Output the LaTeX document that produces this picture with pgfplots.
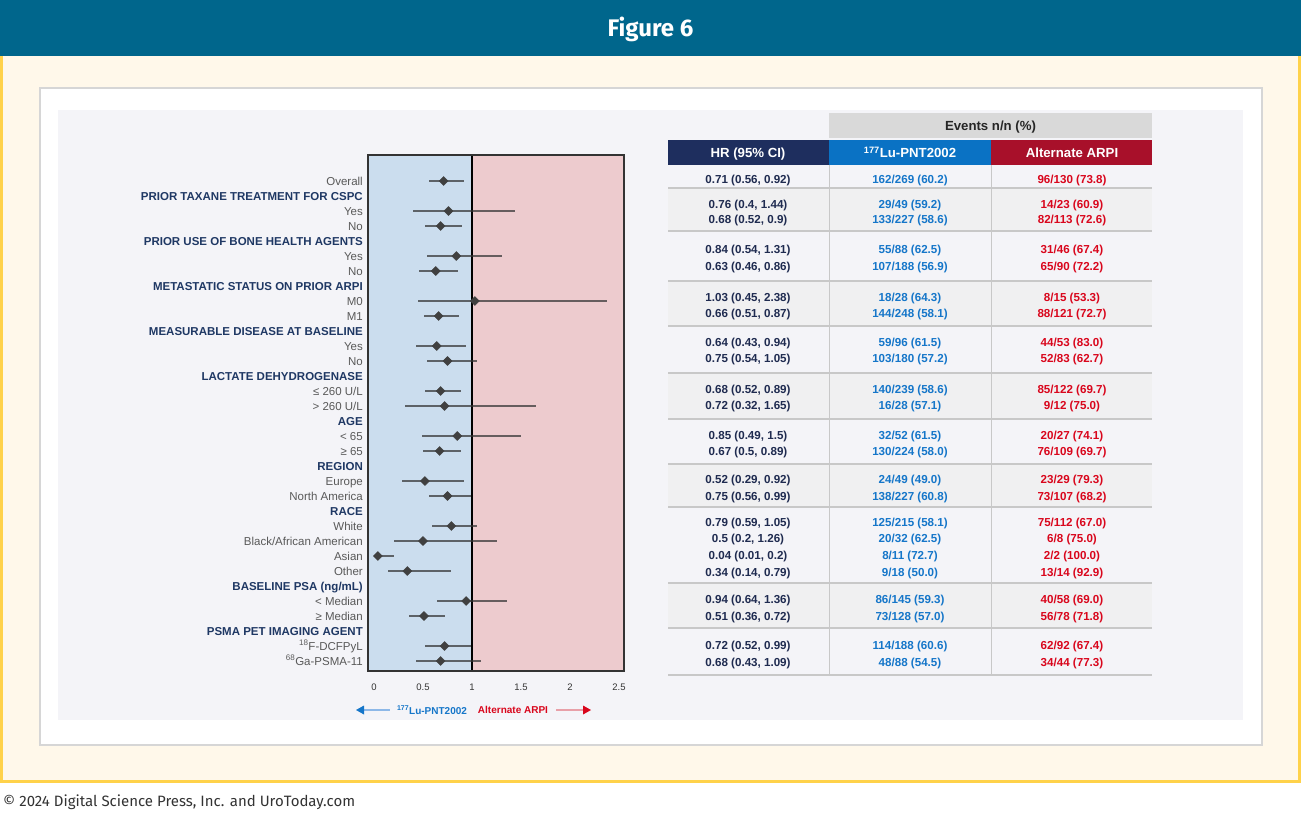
\documentclass[border=0pt]{standalone}
\usepackage{pgfplots}
\pgfplotsset{compat=1.18}
\usepackage{pgfplotstable}
\usepackage{fontspec}
\setmainfont{Liberation Sans}
\newfontfamily\firafont{Fira Sans}
\definecolor{topbar}{HTML}{00668C}
\definecolor{cream}{HTML}{FFF8EA}
\definecolor{ybord}{HTML}{FFD24A}
\definecolor{boxgray}{HTML}{D6D6D6}
\definecolor{panel}{HTML}{F4F4F8}
\definecolor{rowgray}{HTML}{F0F0F1}
\definecolor{sepgray}{HTML}{C8C8C8}
\definecolor{evgray}{HTML}{D9D9D9}
\definecolor{hnavy}{HTML}{1E2E5E}
\definecolor{hblue}{HTML}{0A72C4}
\definecolor{hred}{HTML}{A8102A}
\definecolor{hrc}{HTML}{1F2B50}
\definecolor{luc}{HTML}{1576C9}
\definecolor{arc}{HTML}{D9061C}
\definecolor{hdr}{HTML}{1F3864}
\definecolor{subc}{HTML}{595959}
\definecolor{bshade}{HTML}{CBDDEE}
\definecolor{pshade}{HTML}{EDCBCE}
\definecolor{axisc}{HTML}{333333}
\definecolor{lblue}{HTML}{8DB8E8}
\definecolor{lred}{HTML}{E8A0A8}
\newcommand{\hd}[1]{{\color{hdr}\bfseries #1}}
\newcommand{\sg}[1]{{\color{subc}#1}}
\newcommand{\trow}[4]{%
  \node[tbl,text=hrc] at (748,#1) {#2};
  \node[tbl,text=luc] at (910,#1) {#3};
  \node[tbl,text=arc] at (1072,#1) {#4};}
\pgfplotstableread{
y hr lo hi
0 0.71 0.56 0.92
2 0.76 0.40 1.44
3 0.68 0.52 0.90
5 0.84 0.54 1.31
6 0.63 0.46 0.86
8 1.03 0.45 2.38
9 0.66 0.51 0.87
11 0.64 0.43 0.94
12 0.75 0.54 1.05
14 0.68 0.52 0.89
15 0.72 0.32 1.65
17 0.85 0.49 1.50
18 0.67 0.50 0.89
20 0.52 0.29 0.92
21 0.75 0.56 0.99
23 0.79 0.59 1.05
24 0.50 0.20 1.26
25 0.04 0.01 0.20
26 0.34 0.14 0.79
28 0.94 0.64 1.36
29 0.51 0.36 0.72
31 0.72 0.52 0.99
32 0.68 0.43 1.09
}\forestdata
\begin{document}
\begin{tikzpicture}
\begin{scope}[x=1pt,y=-1pt,
  tbl/.style={font=\bfseries\fontsize{11.6}{12}\selectfont, inner sep=0pt, text height=8.4pt, text depth=0pt},
  hdrtxt/.style={font=\bfseries\fontsize{13.2}{14}\selectfont, inner sep=0pt, text height=9.5pt, text depth=0pt}]
\fill[white] (0,0) rectangle (1301,812);
\fill[cream] (0,56) rectangle (1301,782);
\draw[ybord, line width=3pt] (1.5,56) -- (1.5,781.5) -- (1299.5,781.5) -- (1299.5,56);
\fill[topbar] (0,0) rectangle (1301,56);
\node[white, inner sep=0pt, font=\firafont\bfseries\fontsize{24}{26}\selectfont] at (650.5,29) {Figure 6};
\fill[white] (40,88) rectangle (1262,745);
\draw[boxgray, line width=2pt] (40,88) rectangle (1262,745);
\fill[panel] (58,110) rectangle (1243,720);
% table backgrounds
\fill[rowgray] (668,188) rectangle (1152,231);
\fill[rowgray] (668,281) rectangle (1152,326);
\fill[rowgray] (668,373) rectangle (1152,419);
\fill[rowgray] (668,464) rectangle (1152,507);
\fill[rowgray] (668,583) rectangle (1152,628);
% headers
\fill[evgray] (829,113) rectangle (1152,138);
\node[hdrtxt, text=black!85] at (990.5,126) {Events n/n (\%)};
\fill[hnavy] (668,140) rectangle (829,165);
\fill[hblue] (829,140) rectangle (991,165);
\fill[hred] (991,140) rectangle (1152,165);
\node[hdrtxt, text=white] at (748,153) {HR (95\% CI)};
\node[hdrtxt, text=white] at (910,153) {\textsuperscript{177}Lu-PNT2002};
\node[hdrtxt, text=white] at (1072,153) {Alternate ARPI};
% separators
\foreach \yy in {188,231,281,326,373,419,464,507,583,628,675}
  \draw[sepgray, line width=1.2pt] (668,\yy) -- (1152,\yy);
\draw[sepgray, line width=1pt] (829,165) -- (829,675);
\draw[sepgray, line width=1pt] (991,165) -- (991,675);
% rows
\trow{179}{0.71 (0.56, 0.92)}{162/269 (60.2)}{96/130 (73.8)}
\trow{204}{0.76 (0.4, 1.44)}{29/49 (59.2)}{14/23 (60.9)}
\trow{219}{0.68 (0.52, 0.9)}{133/227 (58.6)}{82/113 (72.6)}
\trow{249}{0.84 (0.54, 1.31)}{55/88 (62.5)}{31/46 (67.4)}
\trow{266}{0.63 (0.46, 0.86)}{107/188 (56.9)}{65/90 (72.2)}
\trow{297}{1.03 (0.45, 2.38)}{18/28 (64.3)}{8/15 (53.3)}
\trow{313}{0.66 (0.51, 0.87)}{144/248 (58.1)}{88/121 (72.7)}
\trow{342}{0.64 (0.43, 0.94)}{59/96 (61.5)}{44/53 (83.0)}
\trow{358}{0.75 (0.54, 1.05)}{103/180 (57.2)}{52/83 (62.7)}
\trow{389}{0.68 (0.52, 0.89)}{140/239 (58.6)}{85/122 (69.7)}
\trow{405}{0.72 (0.32, 1.65)}{16/28 (57.1)}{9/12 (75.0)}
\trow{435}{0.85 (0.49, 1.5)}{32/52 (61.5)}{20/27 (74.1)}
\trow{451}{0.67 (0.5, 0.89)}{130/224 (58.0)}{76/109 (69.7)}
\trow{479}{0.52 (0.29, 0.92)}{24/49 (49.0)}{23/29 (79.3)}
\trow{496}{0.75 (0.56, 0.99)}{138/227 (60.8)}{73/107 (68.2)}
\trow{522}{0.79 (0.59, 1.05)}{125/215 (58.1)}{75/112 (67.0)}
\trow{538}{0.5 (0.2, 1.26)}{20/32 (62.5)}{6/8 (75.0)}
\trow{555}{0.04 (0.01, 0.2)}{8/11 (72.7)}{2/2 (100.0)}
\trow{572}{0.34 (0.14, 0.79)}{9/18 (50.0)}{13/14 (92.9)}
\trow{599}{0.94 (0.64, 1.36)}{86/145 (59.3)}{40/58 (69.0)}
\trow{616}{0.51 (0.36, 0.72)}{73/128 (57.0)}{56/78 (71.8)}
\trow{645}{0.72 (0.52, 0.99)}{114/188 (60.6)}{62/92 (67.4)}
\trow{662}{0.68 (0.43, 1.09)}{48/88 (54.5)}{34/44 (77.3)}
% direction legend
\draw[lblue, line width=1.2pt] (363,710) -- (390,710);
\fill[luc] (356,710) -- (364,705.5) -- (364,714.5) -- cycle;
\node[inner sep=0pt, text=luc, font=\bfseries\fontsize{10}{11}\selectfont] at (432,710) {\textsuperscript{177}Lu-PNT2002};
\node[inner sep=0pt, text=arc, font=\bfseries\fontsize{10}{11}\selectfont] at (513,710) {Alternate ARPI};
\draw[lred, line width=1.2pt] (556,710) -- (583,710);
\fill[arc] (591,710) -- (583,705.5) -- (583,714.5) -- cycle;
% footer
\node[anchor=west, inner sep=0pt, text=black!80, font=\firafont\fontsize{15}{16}\selectfont] at (3,802) {\textcopyright{} 2024 Digital Science Press, Inc. and UroToday.com};
\end{scope}
\begin{axis}[
  at={(368pt,-155pt)}, anchor=north west,
  scale only axis, width=256pt, height=516pt,
  xmin=-0.061, xmax=2.551, ymin=-1.733, ymax=32.667, y dir=reverse,
  axis on top,
  axis line style={draw=axisc, line width=1.3pt},
  major tick length=0pt,
  xtick={0,0.5,1,1.5,2,2.5}, xticklabels={0,0.5,1,1.5,2,2.5},
  xticklabel style={anchor=north, inner sep=0pt, yshift=-12pt, text=axisc, font=\fontsize{9.5}{10}\selectfont, text height=6.8pt, text depth=0pt},
  ytick={0,1,...,32},
  yticklabels={\sg{Overall},\hd{PRIOR TAXANE TREATMENT FOR CSPC},\sg{Yes},\sg{No},
    \hd{PRIOR USE OF BONE HEALTH AGENTS},\sg{Yes},\sg{No},
    \hd{METASTATIC STATUS ON PRIOR ARPI},\sg{M0},\sg{M1},
    \hd{MEASURABLE DISEASE AT BASELINE},\sg{Yes},\sg{No},
    \hd{LACTATE DEHYDROGENASE},\sg{≤ 260 U/L},\sg{> 260 U/L},
    \hd{AGE},\sg{< 65},\sg{≥ 65},
    \hd{REGION},\sg{Europe},\sg{North America},
    \hd{RACE},\sg{White},\sg{Black/African American},\sg{Asian},\sg{Other},
    \hd{BASELINE PSA (ng/mL)},\sg{< Median},\sg{≥ Median},
    \hd{PSMA PET IMAGING AGENT},\sg{\textsuperscript{18}F-DCFPyL},\sg{\textsuperscript{68}Ga-PSMA-11}},
  yticklabel style={anchor=east, inner sep=0pt, xshift=-5pt, font=\fontsize{11.5}{12}\selectfont, text height=8.3pt, text depth=0pt},
]
\fill[bshade] (axis cs:-0.061,-1.733) rectangle (axis cs:1,32.667);
\fill[pshade] (axis cs:1,-1.733) rectangle (axis cs:2.551,32.667);
\draw[black, line width=1.8pt] (axis cs:1,-1.733) -- (axis cs:1,32.667);
\addplot[only marks, mark=none,
  error bars/.cd, x dir=both, x explicit, error mark=none,
  error bar style={line width=1.3pt, draw=black!80, opacity=0.72}]
  table[x=hr, y=y, x error plus expr=\thisrow{hi}-\thisrow{hr}, x error minus expr=\thisrow{hr}-\thisrow{lo}] {\forestdata};
\addplot[only marks, mark=square*, mark size=3.2pt, mark options={fill=black!75, draw=black!75, rotate=45, line join=round}]
  table[x=hr, y=y] {\forestdata};
\end{axis}
\end{tikzpicture}
\end{document}
